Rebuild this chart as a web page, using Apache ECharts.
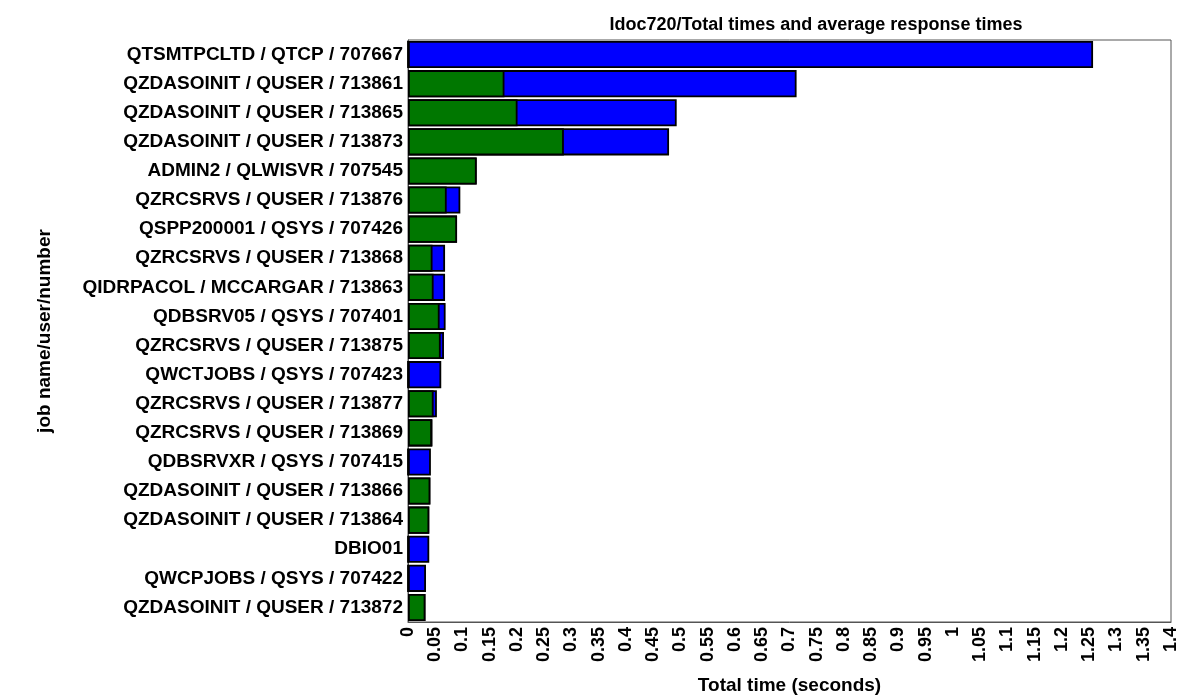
<!DOCTYPE html>
<html><head><meta charset="utf-8">
<script src="https://cdn.jsdelivr.net/npm/echarts@6/dist/echarts.min.js"></script>
<style>html,body{margin:0;padding:0;background:#fff}#c{width:1183px;height:696px}</style>
</head><body><div id="c"></div>
<script>
const categories = [
  "QTSMTPCLTD / QTCP / 707667",
  "QZDASOINIT / QUSER / 713861",
  "QZDASOINIT / QUSER / 713865",
  "QZDASOINIT / QUSER / 713873",
  "ADMIN2 / QLWISVR / 707545",
  "QZRCSRVS / QUSER / 713876",
  "QSPP200001 / QSYS / 707426",
  "QZRCSRVS / QUSER / 713868",
  "QIDRPACOL / MCCARGAR / 713863",
  "QDBSRV05 / QSYS / 707401",
  "QZRCSRVS / QUSER / 713875",
  "QWCTJOBS / QSYS / 707423",
  "QZRCSRVS / QUSER / 713877",
  "QZRCSRVS / QUSER / 713869",
  "QDBSRVXR / QSYS / 707415",
  "QZDASOINIT / QUSER / 713866",
  "QZDASOINIT / QUSER / 713864",
  "DBIO01",
  "QWCPJOBS / QSYS / 707422",
  "QZDASOINIT / QUSER / 713872"
];
const totalTimes = [1.257, 0.713, 0.493, 0.479, 0.126, 0.096, 0.090, 0.068, 0.068, 0.069, 0.066, 0.061, 0.053, 0.045, 0.042, 0.041, 0.039, 0.039, 0.033, 0.032];
const greenTimes = [0, 0.177, 0.201, 0.286, 0.126, 0.071, 0.090, 0.045, 0.047, 0.058, 0.060, 0, 0.047, 0.044, 0, 0.041, 0.039, 0, 0, 0.032];
const xMin = 0, xMax = 1.4, xInterval = 0.05;

const chart = echarts.init(document.getElementById('c'));
const font = 'Liberation Sans, Arial, sans-serif';
chart.setOption({
  animation: false,
  title: {
    text: 'Idoc720/Total times and average response times',
    left: 811, top: 11, textAlign: 'center',
    textStyle: {fontFamily: font, fontWeight: 'bold', fontSize: 18, color: '#000'}
  },
  grid: {left: 408, right: 12, top: 40, bottom: 74, outerBoundsMode: 'none', containLabel: false,
    show: true, borderColor: '#555', borderWidth: 1, backgroundColor: '#fff'},
  xAxis: {
    type: 'value', min: xMin, max: xMax, interval: xInterval,
    name: 'Total time (seconds)', nameLocation: 'middle', nameGap: 54,
    nameTextStyle: {fontFamily: font, fontWeight: 'bold', fontSize: 19, color: '#000'},
    axisLine: {show: true, lineStyle: {color: '#555'}},
    axisTick: {show: false},
    splitLine: {show: false},
    axisLabel: {rotate: 90, fontFamily: font, fontWeight: 'bold', fontSize: 18, color: '#000', margin: 5,
      formatter: v => String(Math.round(v * 100) / 100)}
  },
  yAxis: {
    type: 'category', data: categories, inverse: true,
    name: 'job name/user/number', nameLocation: 'middle', nameGap: 354, nameRotate: 90,
    nameTextStyle: {fontFamily: font, fontWeight: 'bold', fontSize: 19, color: '#000'},
    axisLine: {show: true, lineStyle: {color: '#555'}},
    axisTick: {show: false},
    axisLabel: {fontFamily: font, fontWeight: 'bold', fontSize: 19, color: '#000', margin: 5}
  },
  series: [
    {type: 'bar', data: totalTimes, barCategoryGap: '7%', barGap: '-100%',
      itemStyle: {color: '#0000ff', borderColor: '#000', borderWidth: 1.8}},
    {type: 'bar', data: greenTimes, barCategoryGap: '7%', barGap: '-100%',
      itemStyle: {color: '#007700', borderColor: '#000', borderWidth: 1.8}}
  ]
});
</script></body></html>
